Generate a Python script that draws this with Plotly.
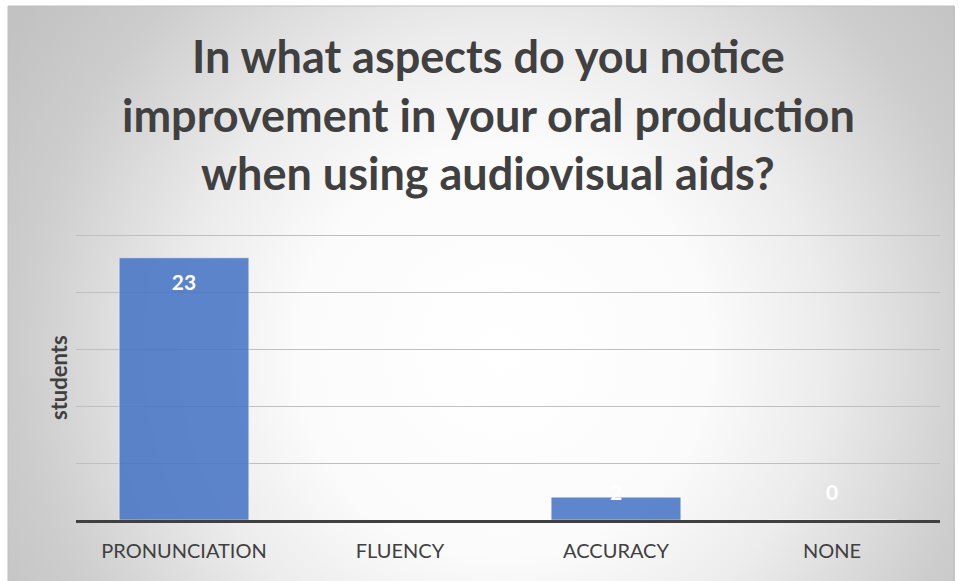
import base64
import plotly.graph_objects as go

# Survey results
categories = ["PRONUNCIATION", "FLUENCY", "ACCURACY", "NONE"]
students = [23, None, 2, 0]
title_lines = [
    "In what aspects do you notice",
    "improvement in your oral production",
    "when using audiovisual aids?",
]
y_title = "students"

W, H = 959, 581
M_L, M_R, M_T, M_B = 76, 19, 234, 61
PLOT_W = W - M_L - M_R
PLOT_H = H - M_T - M_B
Y_MAX = 25.09  # a hair above 25 so the top gridline is drawn


def px_x(px):
    return (px - M_L) / PLOT_W


def px_y(py):
    return (H - M_B - py) / PLOT_H


# Radial grey-to-white chart background
svg = f"""<svg xmlns='http://www.w3.org/2000/svg' width='947' height='580' viewBox='0 0 947 580'>
<defs><radialGradient id='g' gradientUnits='userSpaceOnUse' cx='495' cy='345' r='585'>
<stop offset='0' stop-color='#ffffff'/>
<stop offset='0.35' stop-color='#fbfbfb'/>
<stop offset='0.55' stop-color='#ececec'/>
<stop offset='0.82' stop-color='#cdcdcd'/>
<stop offset='1' stop-color='#c2c2c2'/>
</radialGradient></defs>
<rect x='0' y='0' width='947' height='580' fill='url(#g)'/>
</svg>"""
bg_src = "data:image/svg+xml;base64," + base64.b64encode(svg.encode()).decode()

# Label positions: inside the bar end, kept above the baseline for short bars
label_x = [c for c, v in zip(categories, students) if v is not None]
label_v = [v for v in students if v is not None]
label_y = [max(v - 2.4, 2.2) for v in label_v]

fig = go.Figure()
fig.add_trace(go.Bar(
    x=categories,
    y=students,
    marker=dict(color="rgba(68,114,196,0.86)",
                line=dict(color="rgba(255,255,255,0.45)", width=1)),
    hoverinfo="x+y",
))
fig.add_trace(go.Scatter(
    x=label_x,
    y=label_y,
    text=[str(v) for v in label_v],
    mode="text",
    textfont=dict(family="Lato", size=21, color="white", weight="bold"),
    cliponaxis=False,
    hoverinfo="skip",
))

fig.update_layout(
    width=W,
    height=H,
    margin=dict(l=M_L, r=M_R, t=M_T, b=M_B),
    paper_bgcolor="white",
    plot_bgcolor="rgba(0,0,0,0)",
    showlegend=False,
    bargap=0.4,
    font=dict(family="Lato", color="#404040"),
    xaxis=dict(
        showline=True, linecolor="#404040", linewidth=3,
        showgrid=False, ticks="", zeroline=False,
        tickfont=dict(family="Lato", size=20, color="#404040"),
        ticklabelstandoff=11,
    ),
    yaxis=dict(
        range=[0, Y_MAX], dtick=5, showgrid=True,
        gridcolor="#bfbfbf", gridwidth=1,
        showticklabels=False, zeroline=False, showline=False, ticks="",
    ),
    images=[dict(
        source=bg_src, xref="paper", yref="paper",
        x=px_x(8), y=px_y(6), sizex=947 / PLOT_W, sizey=580 / PLOT_H,
        xanchor="left", yanchor="top", sizing="stretch", layer="below",
    )],
    shapes=[dict(
        type="rect", xref="paper", yref="paper",
        x0=px_x(8), x1=px_x(954), y0=px_y(586), y1=px_y(6),
        line=dict(color="#bfbfbf", width=1), fillcolor="rgba(0,0,0,0)",
        layer="below",
    )],
)

# Three-line bold title
title_centers = [56, 115, 173]
for line, cy in zip(title_lines, title_centers):
    fig.add_annotation(
        text=line, xref="paper", yref="paper",
        x=px_x(488), y=px_y(cy), xanchor="center", yanchor="middle",
        showarrow=False,
        font=dict(family="Lato", size=45, color="#404040", weight="bold"),
    )

fig.add_annotation(
    text=y_title, xref="paper", yref="paper",
    x=px_x(58), y=px_y(378), xanchor="center", yanchor="middle",
    textangle=-90, showarrow=False,
    font=dict(family="Lato", size=22, color="#404040", weight="bold"),
)

fig.write_html("out.html")
